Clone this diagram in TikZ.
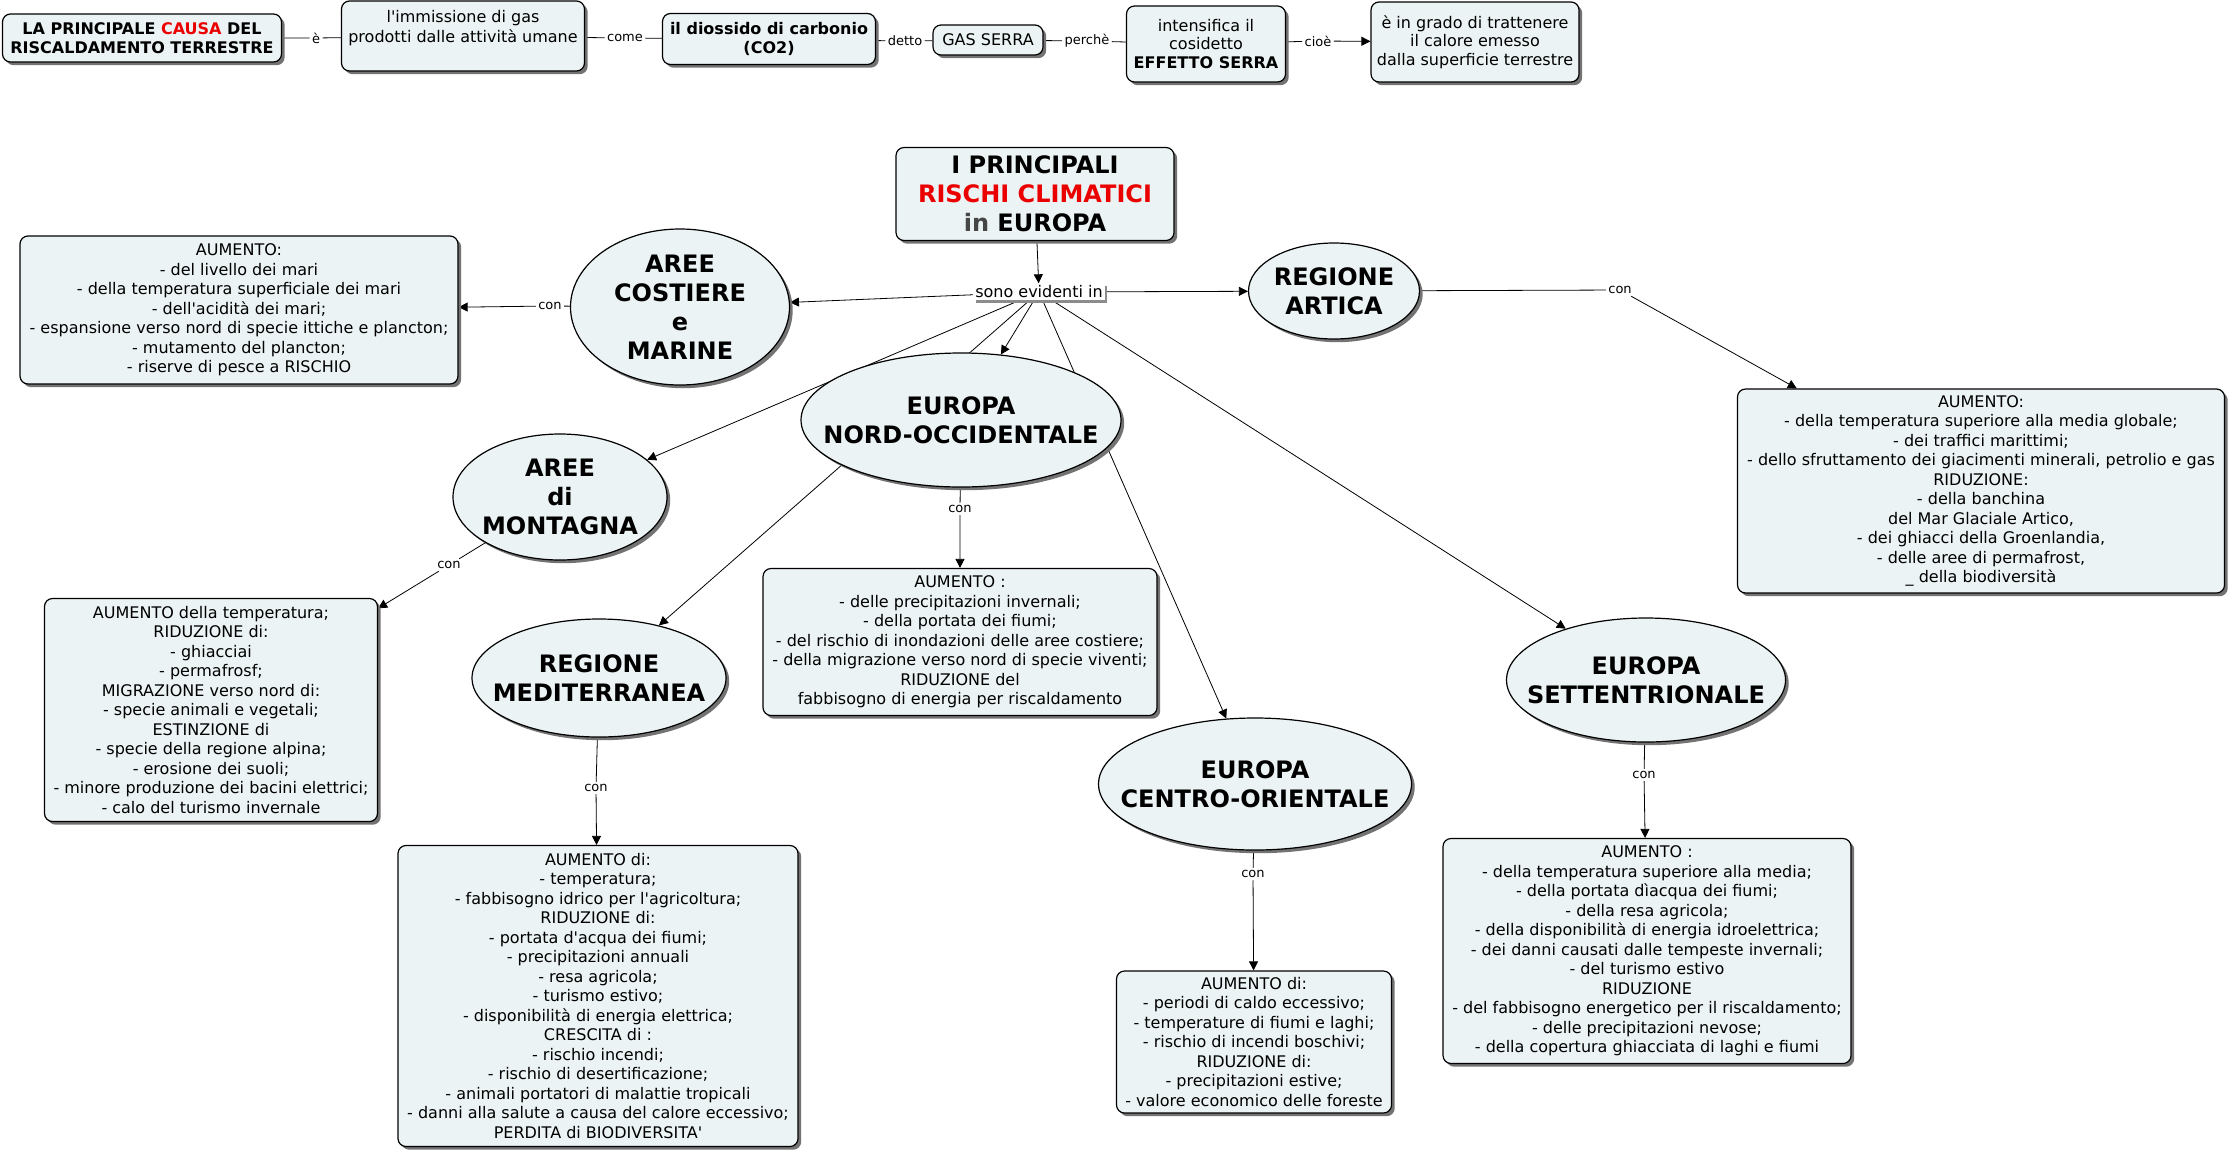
\documentclass[tikz,border=0pt]{standalone}
\usepackage{fontspec}
\setmainfont{DejaVu Sans}[Ligatures=TeXOff]
\usepackage{xcolor}
\usepackage{tikz}
\usetikzlibrary{shapes.geometric, arrows.meta, shadows, backgrounds}
\definecolor{boxfill}{RGB}{236,243,244}
\definecolor{redtxt}{RGB}{235,0,0}
\definecolor{graytxt}{RGB}{70,70,70}
\tikzset{
  base/.style={draw=black, fill=boxfill, line width=0.6pt,
    drop shadow={shadow xshift=1.6pt, shadow yshift=-1.6pt, fill=black!55, opacity=1}},
  box/.style={base, rectangle, rounded corners=4pt, align=center, inner sep=2pt,
    font=\fontsize{8}{9.75}\selectfont},
  bubble/.style={base, ellipse, align=center, inner sep=-60pt,
    font=\fontsize{12}{14.5}\selectfont\bfseries},
  lbl/.style={inner sep=1pt, font=\fontsize{6.5}{7.5}\selectfont},
}

\begin{document}
\begin{tikzpicture}[x=0.5pt, y=-0.5pt, line width=0.5pt, >={Triangle[length=4.5pt, width=4.5pt]}]
      \useasboundingbox (0,0) rectangle (2231,1152);

      % causa
      \node[box, font=\fontsize{8}{9.5}\selectfont\bfseries, minimum width=139.5pt, minimum height=24pt] (causa) at (142,38) {LA PRINCIPALE \textcolor{redtxt}{CAUSA} DEL\\RISCALDAMENTO TERRESTRE};
      \node[lbl] (e) at (316,38) {è};
      \node[box, minimum width=121.5pt, minimum height=35pt] (immissione) at (463,36) {l'immissione di gas\\prodotti dalle attività umane\\\mbox{}};
      \node[lbl] (come) at (625,38) {come};
      \node[box, font=\fontsize{8}{9.5}\selectfont\bfseries, minimum width=106.5pt, minimum height=25.5pt] (co2) at (769,39) {il diossido di carbonio\\(CO2)};
      \node[lbl] (detto) at (905,41) {detto};
      \node[box, minimum width=55pt, minimum height=15pt] (gas) at (988,40) {GAS SERRA};
      \node[lbl] (perche) at (1087,41) {perchè};
      \node[box, font=\fontsize{8}{9.2}\selectfont, minimum width=79.5pt, minimum height=38pt] (effetto) at (1206,44) {intensifica il\\cosidetto\\\textbf{EFFETTO SERRA}};
      \node[lbl] (cioe) at (1318,41) {cioè};
      \node[box, font=\fontsize{8}{9.2}\selectfont, minimum width=104pt, minimum height=40pt] (calore) at (1475,42) {è in grado di trattenere\\il calore emesso\\dalla superficie terrestre};

      % rischi
      \node[box, font=\fontsize{12}{14.5}\selectfont\bfseries, minimum width=139pt, minimum height=46.5pt] (titolo) at (1035,194) {I PRINCIPALI\\\textcolor{redtxt}{RISCHI CLIMATICI}\\\textcolor{graytxt}{in} EUROPA};
      \node[lbl, fill=white, font=\fontsize{8}{9}\selectfont, drop shadow={shadow xshift=1.2pt, shadow yshift=-1.2pt, fill=black!45, opacity=1}] (sono) at (1039,292) {sono evidenti in};

      \node[bubble, minimum width=109.5pt, minimum height=78pt] (costiere) at (680,307) {AREE\\COSTIERE\\e\\MARINE};
      \node[bubble, minimum width=85.5pt, minimum height=48pt] (artica) at (1334,291) {REGIONE\\ARTICA};
      \node[bubble, minimum width=160pt, minimum height=67pt] (nordocc) at (961,420) {EUROPA\\NORD-OCCIDENTALE};
      \node[bubble, minimum width=107pt, minimum height=63pt] (montagna) at (560,497) {AREE\\di\\MONTAGNA};
      \node[bubble, minimum width=127pt, minimum height=59pt] (mediterranea) at (599,678) {REGIONE\\MEDITERRANEA};
      \node[bubble, minimum width=156.5pt, minimum height=66pt] (centro) at (1255,784) {EUROPA\\CENTRO-ORIENTALE};
      \node[bubble, minimum width=139.5pt, minimum height=62pt] (settentrione) at (1646,680) {EUROPA\\SETTENTRIONALE};

      \node[box, minimum width=219pt, minimum height=74pt] (costbox) at (239,310) {AUMENTO:\\- del livello dei mari\\- della temperatura superficiale dei mari\\- dell'acidità dei mari;\\- espansione verso nord di specie ittiche e plancton;\\- mutamento del plancton;\\- riserve di pesce a RISCHIO};
      \node[box, minimum width=243.5pt, minimum height=102pt] (artbox) at (1981,491) {AUMENTO:\\- della temperatura superiore alla media globale;\\- dei traffici marittimi;\\- dello sfruttamento dei giacimenti minerali, petrolio e gas\\RIDUZIONE:\\- della banchina\\del Mar Glaciale Artico,\\- dei ghiacci della Groenlandia,\\- delle aree di permafrost,\\\_ della biodiversità};
      \node[box, minimum width=166.5pt, minimum height=111.5pt] (montbox) at (211,710) {AUMENTO della temperatura;\\RIDUZIONE di:\\- ghiacciai\\- permafrosf;\\MIGRAZIONE verso nord di:\\- specie animali e vegetali;\\ESTINZIONE di\\- specie della regione alpina;\\- erosione dei suoli;\\- minore produzione dei bacini elettrici;\\- calo del turismo invernale};
      \node[box, minimum width=197pt, minimum height=73.5pt] (nordbox) at (960,642) {AUMENTO :\\- delle precipitazioni invernali;\\- della portata dei fiumi;\\- del rischio di inondazioni delle aree costiere;\\- della migrazione verso nord di specie viventi;\\RIDUZIONE del\\fabbisogno di energia per riscaldamento};
      \node[box, minimum width=200pt, minimum height=150.5pt] (medbox) at (598,996) {AUMENTO di:\\- temperatura;\\- fabbisogno idrico per l'agricoltura;\\RIDUZIONE di:\\- portata d'acqua dei fiumi;\\- precipitazioni annuali\\- resa agricola;\\- turismo estivo;\\- disponibilità di energia elettrica;\\CRESCITA di :\\- rischio incendi;\\- rischio di desertificazione;\\- animali portatori di malattie tropicali\\- danni alla salute a causa del calore eccessivo;\\PERDITA di BIODIVERSITA'};
      \node[box, minimum width=137.5pt, minimum height=71pt] (centrobox) at (1254,1042) {AUMENTO di:\\- periodi di caldo eccessivo;\\- temperature di fiumi e laghi;\\- rischio di incendi boschivi;\\RIDUZIONE di:\\- precipitazioni estive;\\- valore economico delle foreste};
      \node[box, minimum width=204pt, minimum height=112.5pt] (settbox) at (1647,951) {AUMENTO :\\- della temperatura superiore alla media;\\- della portata dìacqua dei fiumi;\\- della resa agricola;\\- della disponibilità di energia idroelettrica;\\- dei danni causati dalle tempeste invernali;\\- del turismo estivo\\RIDUZIONE\\- del fabbisogno energetico per il riscaldamento;\\- delle precipitazioni nevose;\\- della copertura ghiacciata di laghi e fiumi};

      \node[lbl] (con1) at (550,306) {con};
      \node[lbl] (con2) at (1620,290) {con};
      \node[lbl] (con3) at (449,565) {con};
      \node[lbl] (con4) at (960,509) {con};
      \node[lbl] (con5) at (596,788) {con};
      \node[lbl] (con6) at (1253,874) {con};
      \node[lbl] (con7) at (1644,775) {con};

      \begin{pgfonlayer}{background}
        \draw (causa) -- (e) -- (immissione) -- (come) -- (co2) -- (detto) -- (gas) -- (perche) -- (effetto);
        \draw[->] (effetto) -- (cioe) -- (calore);
        \draw[->] (titolo) -- (sono);
        \foreach \t in {costiere, artica, nordocc, montagna, mediterranea, centro, settentrione}
          \draw[->] (sono) -- (\t);
        \draw[->] (costiere) -- (con1) -- (costbox);
        \draw[->] (artica) -- (con2) -- (artbox);
        \draw[->] (montagna) -- (con3) -- (montbox);
        \draw[->] (nordocc) -- (con4) -- (nordbox);
        \draw[->] (mediterranea) -- (con5) -- (medbox);
        \draw[->] (centro) -- (con6) -- (centrobox);
        \draw[->] (settentrione) -- (con7) -- (settbox);
      \end{pgfonlayer}
    \end{tikzpicture}
\end{document}
